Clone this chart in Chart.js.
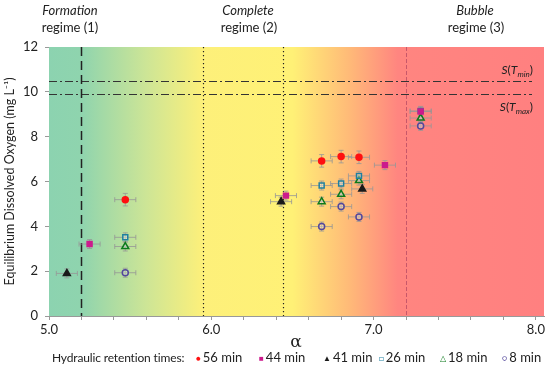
<!DOCTYPE html>
<html><head><meta charset="utf-8">
<script src="https://cdn.jsdelivr.net/npm/chart.js@4.4.1/dist/chart.umd.min.js"></script>
<style>
html,body{margin:0;padding:0;background:#fff;}
#wrap{position:relative;width:550px;height:367px;font-family:Lato,"Open Sans",sans-serif;color:#222;}
canvas{position:absolute;left:0;top:0;}
.t{position:absolute;font-size:13px;line-height:15px;white-space:nowrap;transform:translateX(-50%);text-align:center;}
.i{font-style:italic;}
.s{position:absolute;font-size:12px;white-space:nowrap;right:17px;}
.s sub{font-size:8px;font-style:italic;}
#alpha{position:absolute;left:296px;top:331px;transform:translateX(-50%);font-size:17px;font-family:"DejaVu Serif",serif;}
.lg{position:absolute;top:349px;font-size:13px;white-space:nowrap;}
.lg0{font-size:12px;letter-spacing:-0.15px;top:350px;}
.mk{font-size:8px;margin-right:2px;vertical-align:1px;}
</style></head>
<body><div id="wrap">
<canvas id="c" width="550" height="367"></canvas>
<div class="t i" style="left:70px;top:3px">Formation</div>
<div class="t" style="left:70px;top:20px">regime (1)</div>
<div class="t i" style="left:248px;top:3px">Complete</div>
<div class="t" style="left:249px;top:20px">regime (2)</div>
<div class="t i" style="left:475px;top:3px">Bubble</div>
<div class="t" style="left:476px;top:20px">regime (3)</div>
<div class="s" style="top:62px"><i>S</i>(<i>T</i><sub>min</sub>)</div>
<div class="s" style="top:99px"><i>S</i>(<i>T</i><sub>max</sub>)</div>
<div id="alpha">α</div>
<div id="legend"></div>
</div>
<script>
// ---- data ----
const hrtLabels = ['56 min', '44 min', '41 min', '26 min', '18 min', '8 min'];
const alpha56 = [5.47, 6.68, 6.80, 6.91];
const do56    = [5.19, 6.92, 7.11, 7.08];
const alpha44 = [5.25, 6.46, 7.07, 7.29];
const do44    = [3.21, 5.37, 6.73, 9.12];
const alpha41 = [5.11, 6.43, 6.93];
const do41    = [1.90, 5.10, 5.67];
const alpha26 = [5.47, 6.68, 6.80, 6.91, 7.29];
const do26    = [3.51, 5.82, 5.91, 6.25, 9.15];
const alpha18 = [5.47, 6.68, 6.80, 6.91, 7.29];
const do18    = [3.10, 5.10, 5.43, 6.04, 8.83];
const alpha8  = [5.47, 6.68, 6.80, 6.91, 7.29];
const do8     = [1.93, 3.99, 4.88, 4.42, 8.48];
const alphaErr = [0.065, 0.065, 0.065, 0.065, 0.065, 0.065];
const doErr    = [0.28, 0.2, 0.2, 0.2, 0.2, 0.2];
const regimeBounds = [5.2, 5.95, 6.44, 7.2];
const saturationDO = [10.5, 9.9];
const xTicks = [5.0, 6.0, 7.0, 8.0];
const yTicks = [0, 2, 4, 6, 8, 10, 12];

const seriesAlpha = [alpha56, alpha44, alpha41, alpha26, alpha18, alpha8];
const seriesDO = [do56, do44, do41, do26, do18, do8];
const styles = [
  {c:'#ff1010', f:'#ff1010', ps:'circle', r:3, g:'●'},
  {c:'#cc1a8c', f:'#cc1a8c', ps:'rect', r:3.5, g:'■'},
  {c:'#1a1a1a', f:'#1a1a1a', ps:'triangle', r:4, g:'▲'},
  {c:'#1f7fa0', f:'rgba(255,255,255,0.35)', ps:'rect', r:3.5, g:'□'},
  {c:'#0c7a1c', f:'rgba(255,255,255,0.35)', ps:'triangle', r:4, g:'△'},
  {c:'#54489c', f:'rgba(255,255,255,0.25)', ps:'circle', r:3, g:'○'}
];

const datasets = hrtLabels.map((lab, k) => ({
  label: lab,
  data: seriesAlpha[k].map((a, i) => ({x: a, y: seriesDO[k][i]})),
  pointStyle: styles[k].ps,
  pointRadius: styles[k].r,
  borderColor: styles[k].c,
  backgroundColor: styles[k].f,
  pointBorderWidth: 1.5,
  showLine: false
}));

const bgPlugin = {
  id: 'bg',
  beforeDatasetsDraw(chart) {
    const {ctx, chartArea: a, scales: {x, y}} = chart;
    ctx.save();
    const g = ctx.createLinearGradient(a.left, 0, a.right, 0);
    const stops = [[5.0,'#8cd3b0'],[5.2,'#8fd4ae'],[5.6,'#cde596'],[5.95,'#fdf07a'],[6.5,'#fff176'],[6.85,'#ffba78'],[7.15,'#ff8580'],[8.05,'#ff8080']];
    stops.forEach(([v, col]) => {
      const p = (x.getPixelForValue(v) - a.left) / (a.right - a.left);
      g.addColorStop(Math.min(1, Math.max(0, p)), col);
    });
    ctx.fillStyle = g;
    ctx.fillRect(a.left, a.top, a.right - a.left, a.bottom - a.top);
    ctx.strokeStyle = '#333';
    ctx.lineWidth = 1;
    ctx.setLineDash([8, 3, 2, 3]);
    saturationDO.forEach(v => {
      const py = Math.round(y.getPixelForValue(v)) + 0.5;
      ctx.beginPath(); ctx.moveTo(a.left, py); ctx.lineTo(a.right - 12, py); ctx.stroke();
    });
    const lineStyles = [
      {c:'#222', w:1.5, d:[9, 5]},
      {c:'#222', w:1.2, d:[1.2, 2.8]},
      {c:'#222', w:1.2, d:[1.2, 2.8]},
      {c:'#c8576a', w:1, d:[4, 2]}
    ];
    regimeBounds.forEach((v, i) => {
      const px = Math.round(x.getPixelForValue(v)) + 0.5;
      ctx.strokeStyle = lineStyles[i].c; ctx.lineWidth = lineStyles[i].w;
      ctx.setLineDash(lineStyles[i].d);
      ctx.beginPath(); ctx.moveTo(px, a.top); ctx.lineTo(px, a.bottom); ctx.stroke();
    });
    ctx.setLineDash([]);
    ctx.strokeStyle = 'rgba(150,150,150,0.8)';
    ctx.lineWidth = 1;
    seriesAlpha.forEach((arr, k) => {
      arr.forEach((av, i) => {
        const dv = seriesDO[k][i];
        const x0 = x.getPixelForValue(av - alphaErr[k]), x1 = x.getPixelForValue(av + alphaErr[k]);
        const y0 = y.getPixelForValue(dv - doErr[k]), y1 = y.getPixelForValue(dv + doErr[k]);
        const px = x.getPixelForValue(av), py = y.getPixelForValue(dv);
        ctx.beginPath();
        ctx.moveTo(x0, py); ctx.lineTo(x1, py);
        ctx.moveTo(x0, py - 2.5); ctx.lineTo(x0, py + 2.5);
        ctx.moveTo(x1, py - 2.5); ctx.lineTo(x1, py + 2.5);
        ctx.moveTo(px, y0); ctx.lineTo(px, y1);
        ctx.moveTo(px - 2.5, y0); ctx.lineTo(px + 2.5, y0);
        ctx.moveTo(px - 2.5, y1); ctx.lineTo(px + 2.5, y1);
        ctx.stroke();
      });
    });
    ctx.restore();
  }
};

new Chart(document.getElementById('c'), {
  type: 'scatter',
  data: {datasets},
  plugins: [bgPlugin],
  options: {
    responsive: false,
    animation: false,
    events: [],
    layout: {padding: {top: 47, right: 6, bottom: 0, left: 0}},
    plugins: {legend: {display: false}, tooltip: {enabled: false}},
    scales: {
      x: {
        type: 'linear', min: 5.0, max: 8.05,
        afterFit(s) { s.height = 51; },
        border: {display: true, color: '#999', width: 1},
        grid: {drawOnChartArea: false, drawTicks: true, tickLength: 4, color: '#999'},
        ticks: {
          stepSize: 0.2, includeBounds: false, autoSkip: false, maxRotation: 0, padding: 2,
          color: '#222', font: {family: 'Lato', size: 13},
          callback: (v) => {
            const hit = xTicks.find(t => Math.abs(t - v) < 1e-6);
            return hit !== undefined ? hit.toFixed(1) : '';
          }
        }
      },
      y: {
        type: 'linear', min: 0, max: 12,
        afterFit(s) { s.width = 49; },
        border: {display: true, color: '#999', width: 1},
        grid: {drawOnChartArea: false, drawTicks: true, tickLength: 4, color: '#999'},
        afterBuildTicks(s) { s.ticks = yTicks.map(v => ({value: v})); },
        ticks: {color: '#222', padding: 7, font: {family: 'Lato', size: 13}},
        title: {display: true, text: 'Equilibrium Dissolved Oxygen (mg L⁻¹)', color: '#222',
          font: {family: 'Lato', size: 12.5}, padding: {top: 2, bottom: 0}}
      }
    }
  }
});

const lg = document.getElementById('legend');
const lgPos = [200, 263, 327, 383, 444, 506];
let html = '<div class="lg lg0" style="left:52px">Hydraulic retention times:</div>';
hrtLabels.forEach((lab, k) => {
  html += '<div class="lg" style="left:' + (lgPos[k] - 4) + 'px"><span class="mk" style="color:' + styles[k].c + '">' + styles[k].g + '</span>' + lab + '</div>';
});
lg.innerHTML = html;
</script>
</body></html>
